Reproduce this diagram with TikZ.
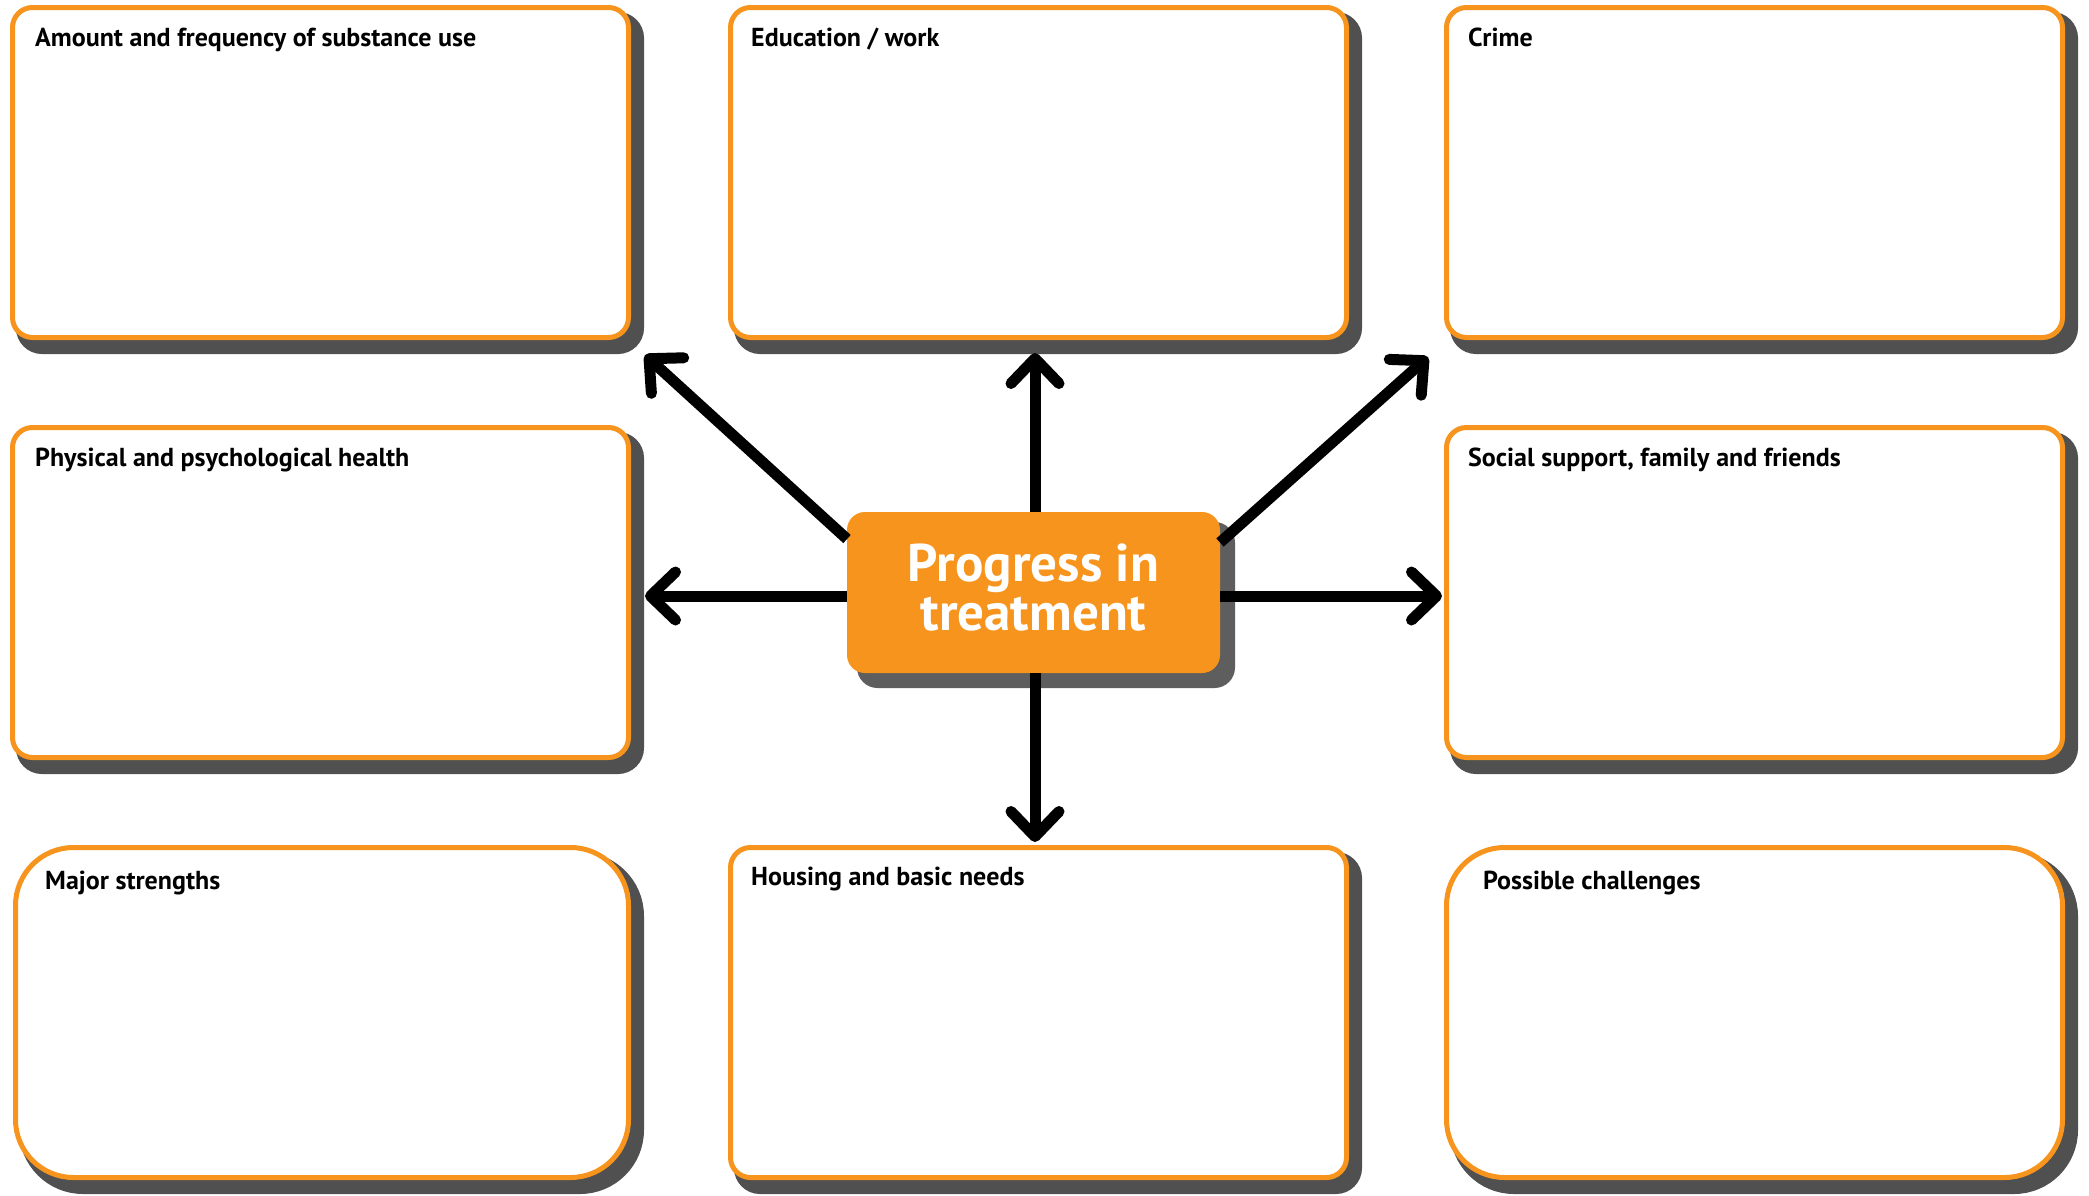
\documentclass[tikz,border=0pt]{standalone}
\usepackage{fontspec}
\setmainfont{PT Sans}
\usetikzlibrary{arrows.meta,shadows}
\definecolor{orng}{HTML}{F7941D}
\definecolor{shd}{HTML}{505050}
\tikzset{
  card/.style={draw=orng, line width=5pt, fill=white, rounded corners=20pt,
    anchor=north west, inner sep=0pt, outer sep=2.5pt, minimum width=616pt, minimum height=330pt,
    general shadow={fill=shd, draw=shd, line width=12pt, shadow xshift=9.5pt, shadow yshift=-10.5pt}},
  roundcard/.style={card, rounded corners=58pt},
  cardtitle/.style={anchor=base west, inner sep=0pt, font=\bfseries\fontsize{26}{30}\selectfont},
  hub/.style={fill=orng, rounded corners=18pt, anchor=north west, inner sep=0pt, outer sep=0pt,
    minimum width=373pt, minimum height=161pt, text=white, align=center, text depth=10pt,
    font=\bfseries\fontsize{53}{49}\selectfont,
    general shadow={fill=shd!92!white, draw=shd!92!white, line width=5pt, shadow xshift=12.5pt, shadow yshift=-12.5pt}},
  spoke/.style={line width=11pt, -{Straight Barb[length=25pt, width=48pt, round]}}
}
\begin{document}
\begin{tikzpicture}[x=1pt, y=-1pt]
\useasboundingbox (0,0) rectangle (2089,1195);
\fill[white] (0,0) rectangle (2089,1195);
% cards
\node[card] (amount) at (10,5) {};
\node[card] (edu) at (728,5) {};
\node[card] (crime) at (1444,5) {};
\node[card] (health) at (10,425) {};
\node[card] (social) at (1444,425) {};
\node[roundcard, minimum width=613pt] (strengths) at (13,845) {};
\node[card] (housing) at (728,845) {};
\node[roundcard] (challenges) at (1444,845) {};
% titles
\node[cardtitle] (tamount) at (35,46) {Amount and frequency of substance use};
\node[cardtitle] (tedu) at (751,46) {Education / work};
\node[cardtitle] (tcrime) at (1468,46) {Crime};
\node[cardtitle] (thealth) at (35,466) {Physical and psychological health};
\node[cardtitle] (tsocial) at (1468,466) {Social support, family and friends};
\node[cardtitle] (tstrengths) at (45,889) {Major strengths};
\node[cardtitle] (thousing) at (751,885) {Housing and basic needs};
\node[cardtitle] (tchallenges) at (1483,889) {Possible challenges};
% arrow tips
\coordinate (pUL) at (645,355);
\coordinate (pU) at (1035,353);
\coordinate (pUR) at (1428,357);
\coordinate (pL) at (645,596);
\coordinate (pR) at (1442,596);
\coordinate (pD) at (1035,842);
% hub
\node[hub] (hub) at (847,512) {Progress in\\treatment};
% spokes
\draw[spoke] (hub.164) -- (pUL);
\draw[spoke] (hub.north -| pU) -- (pU);
\draw[spoke] (hub.15) -- (pUR);
\draw[spoke] (hub.west |- pL) -- (pL);
\draw[spoke] (hub.east |- pR) -- (pR);
\draw[spoke] (hub.south -| pD) -- (pD);
\end{tikzpicture}
\end{document}
